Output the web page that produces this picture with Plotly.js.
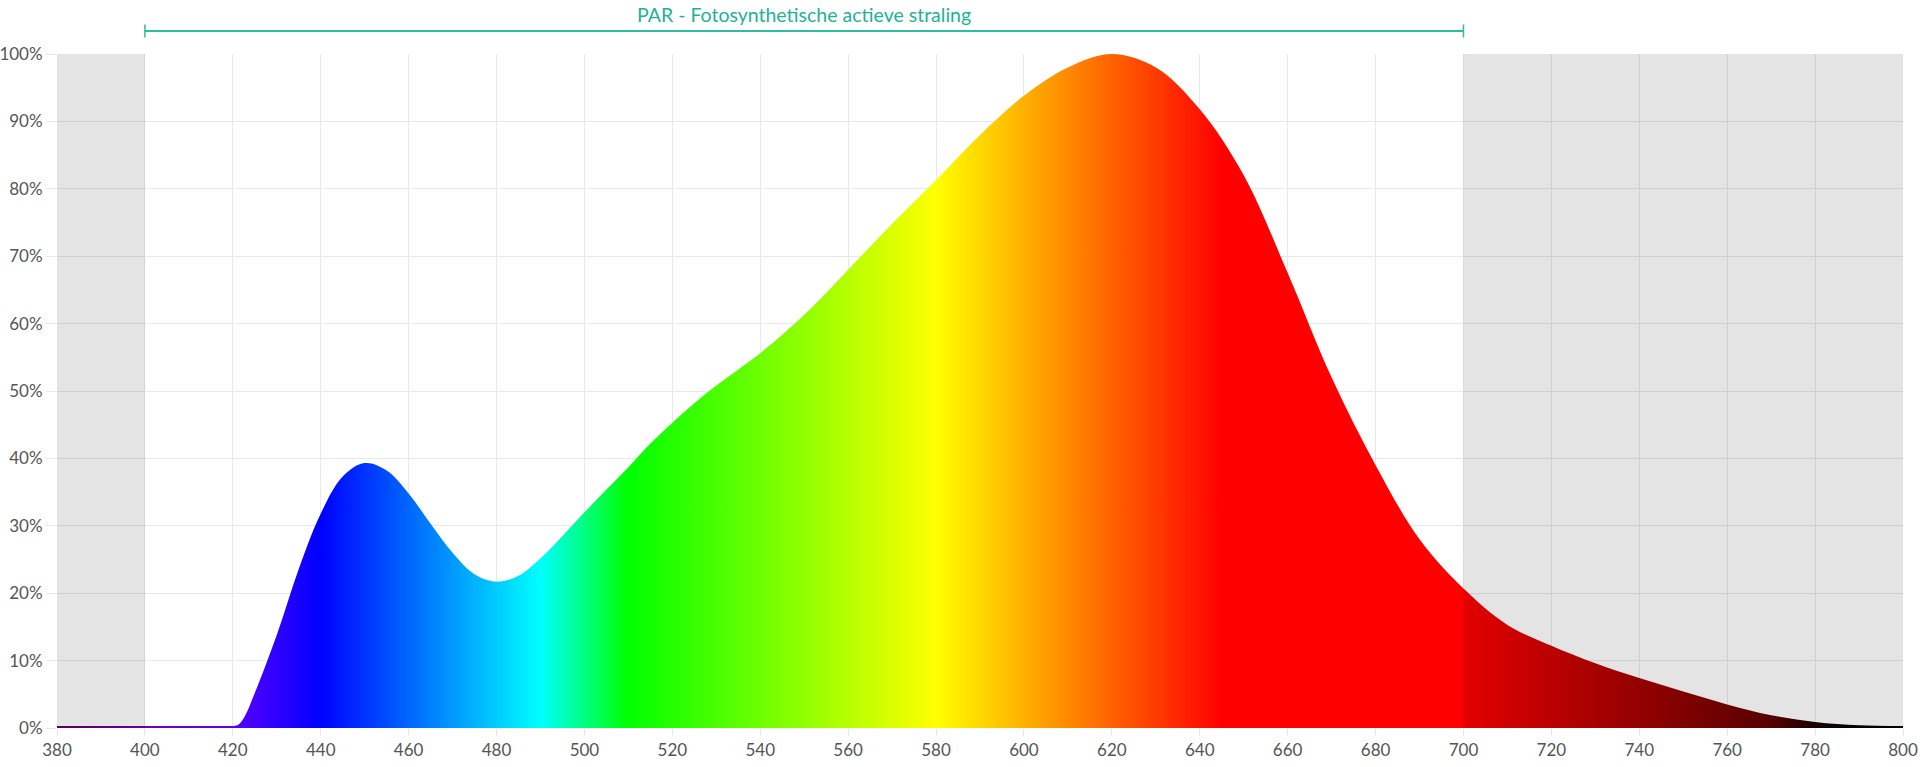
<!DOCTYPE html>
<html>
<head>
<meta charset="utf-8">
<script src="https://cdn.plot.ly/plotly-3.0.1.min.js"></script>
<style>
  html, body { margin: 0; padding: 0; background: #ffffff; }
  #chart { width: 1920px; height: 767px; }
</style>
</head>
<body>
<div id="chart"></div>
<script>
// Wavelength (nm) and relative intensity (%)
const wavelength = [380, 400, 415, 419, 421, 422.5, 425, 430, 435, 440, 445, 450, 455, 460, 465, 470, 475, 480, 485, 490, 495, 500, 505, 510, 515, 520, 525, 530, 535, 540, 550, 560, 570, 580, 590, 600, 610, 620, 630, 640, 650, 660, 670, 680, 690, 700, 710, 720, 730, 740, 750, 760, 770, 780, 790, 800];
const intensity  = [0.3, 0.3, 0.3, 0.3, 0.4, 1.5, 5.2, 13.8, 23.6, 31.8, 37.3, 39.3, 38.2, 34.8, 30.3, 26.0, 22.8, 21.7, 22.6, 25.2, 28.5, 32.0, 35.4, 38.7, 42.2, 45.3, 48.2, 50.8, 53.2, 55.6, 61.3, 68.0, 74.8, 81.3, 88.0, 93.8, 98.0, 100, 98.0, 91.8, 82.0, 67.5, 52.0, 39.0, 28.0, 20.7, 15.3, 12.2, 9.6, 7.4, 5.4, 3.5, 1.9, 0.9, 0.4, 0.3];

// Spectrum colour stops (wavelength, colour)
const gradWave  = [380, 400, 420, 440, 490, 510, 580, 645, 700, 720, 740, 760, 770, 780, 790, 800];
const gradColor = ['#610061', '#7300b0', '#5a00ff', '#0000ff', '#00ffff', '#00ff00', '#ffff00', '#ff0000', '#ff0000', '#d20000', '#a60000', '#790000', '#600000', '#1a0000', '#000000', '#000000'];

// Axis / bands
const xRange = [380, 800];
const yRange = [0, 100];
const parBand = [400, 700];
const parLabel = 'PAR - Fotosynthetische actieve straling';

const colorscale = gradWave.map((w, i) => [(w - xRange[0]) / (xRange[1] - xRange[0]), gradColor[i]]);

const trace = {
  type: 'scatter',
  mode: 'lines',
  x: wavelength,
  y: intensity,
  line: { width: 0, shape: 'spline', smoothing: 1, color: 'rgba(0,0,0,0)' },
  fill: 'tozeroy',
  fillgradient: { type: 'horizontal', start: xRange[0], stop: xRange[1], colorscale: colorscale },
  hoverinfo: 'skip'
};

const overlay = 'rgba(0,0,0,0.106)';
const teal = '#2dbd9f';
const yLine = 1.0341, yCap0 = 1.0245, yCap1 = 1.0438;
const fontFam = 'Lato, "Open Sans", sans-serif';

const layout = {
  width: 1920, height: 767,
  margin: { l: 57, r: 17, t: 54, b: 39 },
  paper_bgcolor: '#ffffff',
  plot_bgcolor: '#ffffff',
  showlegend: false,
  font: { family: fontFam, color: '#555555', size: 17 },
  xaxis: {
    range: xRange, dtick: 20, tick0: 380,
    showgrid: true, gridcolor: '#e8e8e8', gridwidth: 1,
    zeroline: false, showline: false,
    ticks: 'outside', ticklen: 7, tickcolor: '#e6e6e6',
    tickfont: { size: 17, color: '#555555' },
    fixedrange: true
  },
  yaxis: {
    range: yRange, dtick: 10, ticksuffix: '%',
    showgrid: true, gridcolor: '#e8e8e8', gridwidth: 1,
    zeroline: false, showline: false,
    ticks: 'outside', ticklen: 10, tickcolor: '#e8e8e8',
    tickfont: { size: 17, color: '#555555' },
    fixedrange: true
  },
  shapes: [
    { type: 'rect', xref: 'x', yref: 'paper', x0: xRange[0], x1: parBand[0], y0: 0, y1: 1, fillcolor: overlay, line: { width: 0 }, layer: 'above' },
    { type: 'rect', xref: 'x', yref: 'paper', x0: parBand[1], x1: xRange[1], y0: 0, y1: 1, fillcolor: overlay, line: { width: 0 }, layer: 'above' },
    { type: 'line', xref: 'x', yref: 'paper', x0: parBand[0], x1: parBand[1], y0: yLine, y1: yLine, line: { color: teal, width: 2 } },
    { type: 'line', xref: 'x', yref: 'paper', x0: parBand[0], x1: parBand[0], y0: yCap0, y1: yCap1, line: { color: teal, width: 1.5 } },
    { type: 'line', xref: 'x', yref: 'paper', x0: parBand[1], x1: parBand[1], y0: yCap0, y1: yCap1, line: { color: teal, width: 1.5 } }
  ],
  annotations: [
    { text: parLabel, xref: 'x', yref: 'paper', x: (parBand[0] + parBand[1]) / 2, y: 1.0593,
      xanchor: 'center', yanchor: 'middle', showarrow: false,
      font: { size: 19.5, color: '#1db394', family: fontFam } }
  ]
};

Plotly.newPlot('chart', [trace], layout, { staticPlot: true, displayModeBar: false });
</script>
</body>
</html>
